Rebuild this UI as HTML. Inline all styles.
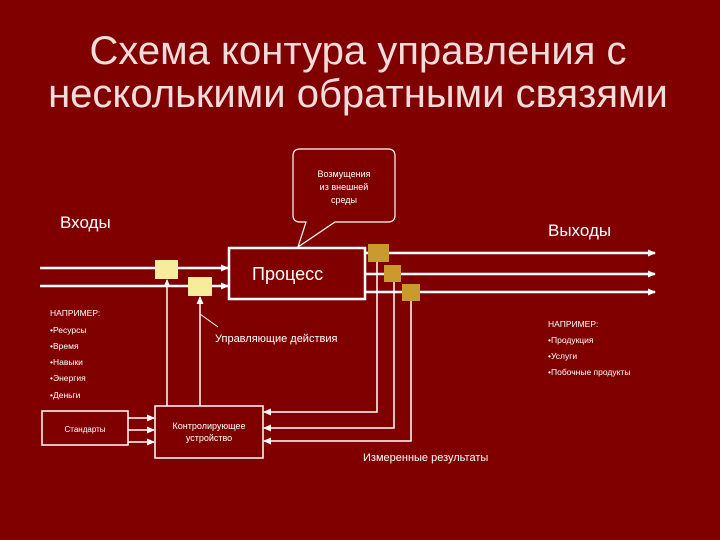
<!DOCTYPE html>
<html><head><meta charset="utf-8"><style>
body{margin:0;width:720px;height:540px;background:#800000;overflow:hidden;font-family:"Liberation Sans","DejaVu Sans",sans-serif;}
svg{position:absolute;left:0;top:0}
</style></head><body>
<svg width="720" height="540" viewBox="0 0 720 540" font-family="Liberation Sans, DejaVu Sans, sans-serif">
<defs><marker id="a" markerWidth="8" markerHeight="8" refX="7" refY="4" orient="auto" markerUnits="userSpaceOnUse"><path d="M0,0.5 L8,4 L0,7.5z" fill="#fff"/></marker></defs>
<rect width="720" height="540" fill="#800000"/>
<g fill="#f2dcdc" font-size="40" text-anchor="middle">
<text x="358" y="64">Схема контура управления с</text>
<text x="358" y="107">несколькими обратными связями</text>
</g>
<path d="M300,149 H388 Q395,149 395,156 V215 Q395,222 388,222 H335 L298,247 L306,222 H300 Q293,222 293,215 V156 Q293,149 300,149z" fill="#800000" stroke="#fff" stroke-width="1.2"/>
<g fill="#fff" font-size="9" text-anchor="middle"><text x="344" y="177">Возмущения</text><text x="344" y="190">из внешней</text><text x="344" y="203">среды</text></g>
<text x="60" y="228" fill="#fff" font-size="17">Входы</text>
<text x="548" y="236" fill="#fff" font-size="17">Выходы</text>
<g stroke="#fff" stroke-width="2.5" fill="none">
<line x1="40" y1="268" x2="228" y2="268" marker-end="url(#a)"/>
<line x1="40" y1="286" x2="228" y2="286" marker-end="url(#a)"/>
<rect x="229" y="248" width="136" height="51" stroke-width="2.5"/>
<line x1="365" y1="253" x2="655" y2="253" marker-end="url(#a)"/>
<line x1="365" y1="274" x2="655" y2="274" marker-end="url(#a)"/>
<line x1="365" y1="292" x2="655" y2="292" marker-end="url(#a)"/>
</g>
<g stroke="#fff" stroke-width="1.5" fill="none">
<line x1="167" y1="406" x2="167" y2="280" marker-end="url(#a)"/>
<line x1="200" y1="406" x2="200" y2="297" marker-end="url(#a)"/>
<polyline points="377,262 377,412 264,412" marker-end="url(#a)"/>
<polyline points="394,282 394,428 264,428" marker-end="url(#a)"/>
<polyline points="411,301 411,441 264,441" marker-end="url(#a)"/>
<rect x="155" y="406" width="108" height="52"/>
<rect x="42" y="411" width="86" height="34"/>
<line x1="128" y1="418" x2="154" y2="418" marker-end="url(#a)"/>
<line x1="128" y1="430" x2="154" y2="430" marker-end="url(#a)"/>
<line x1="128" y1="442" x2="154" y2="442" marker-end="url(#a)"/>
<line x1="200" y1="314" x2="218" y2="327" stroke-width="1"/>
</g>
<g fill="#f6ec9a"><rect x="155" y="260" width="23" height="19"/><rect x="188" y="277" width="24" height="19"/></g>
<g fill="#c99a2e"><rect x="368" y="244" width="21" height="18"/><rect x="384" y="265" width="17" height="17"/><rect x="402" y="284" width="18" height="17"/></g>
<text x="252" y="280" fill="#fff" font-size="18">Процесс</text>
<text x="215" y="342" fill="#fff" font-size="11">Управляющие действия</text>
<text x="363" y="461" fill="#fff" font-size="11">Измеренные результаты</text>
<g fill="#fff" font-size="9" text-anchor="middle"><text x="209" y="429">Контролирующее</text><text x="209" y="441">устройство</text><text x="85" y="432" font-size="8">Стандарты</text></g>
<g fill="#fff" font-size="8.5">
<text x="50" y="316">НАПРИМЕР:</text><text x="50" y="333">•Ресурсы</text><text x="50" y="349">•Время</text><text x="50" y="365">•Навыки</text><text x="50" y="381">•Энергия</text><text x="50" y="398">•Деньги</text>
<text x="548" y="327">НАПРИМЕР:</text><text x="548" y="343">•Продукция</text><text x="548" y="359">•Услуги</text><text x="548" y="375">•Побочные продукты</text>
</g>
</svg>
</body></html>
